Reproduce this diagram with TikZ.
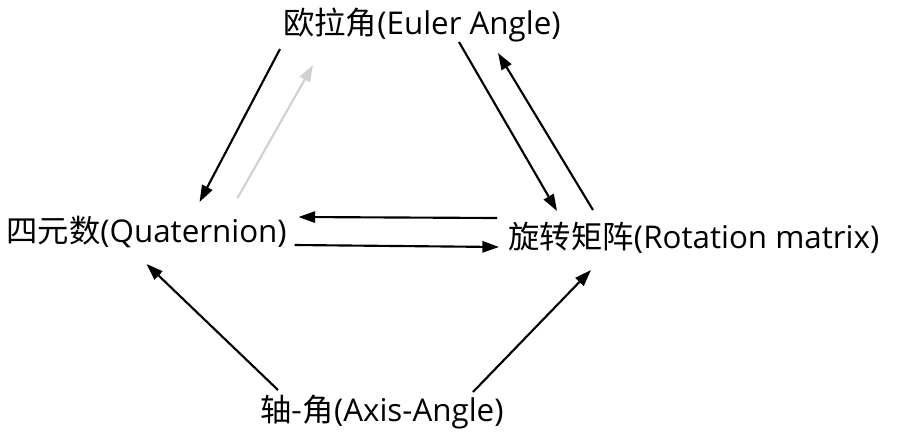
\documentclass[tikz,border=0pt]{standalone}
\usepackage{fontspec}
\setmainfont{Open Sans}
\newfontfamily\cjk{Noto Sans CJK SC}
\usepackage{tikz}
\usetikzlibrary{arrows.meta}

\tikzset{
  conv/.style={-{Triangle[length=12.5pt,width=8.5pt]}, line width=1.6pt, black},
  faint/.style={conv, color=black!18}
}

\begin{document}
\begin{tikzpicture}[x=0.75pt, y=-0.75pt, font=\fontsize{23.5}{28}\selectfont]
  \useasboundingbox (0,0) rectangle (900,436);

  % Nodes
  \node (eul) at (422,25) {{\cjk 欧拉角}(Euler Angle)};
  \node[below of=eul, node distance=155.25pt, xshift=-206.6pt] (qua) {{\cjk 四元数}(Quaternion)};
  \node[right of=qua, node distance=410.6pt, yshift=-4.5pt] (rot) {{\cjk 旋转矩阵}(Rotation matrix)};
  \node[below of=eul, node distance=290.25pt, xshift=-30pt] (axi) {{\cjk 轴-角}(Axis-Angle)};

  % Arrows between Euler angle and quaternion
  \draw[conv] ([shift={(-142,24)}]eul.center) -- ([shift={(53,-30)}]qua.center);
  \draw[faint] ([shift={(91,-34)}]qua.center) -- ([shift={(-109,40)}]eul.center);

  % Arrows between Euler angle and rotation matrix
  \draw[conv] ([shift={(37,17)}]eul.center) -- ([shift={(-137,-27)}]rot.center);
  \draw[conv] ([shift={(-101,-28)}]rot.center) -- ([shift={(76,28)}]eul.center);

  % Arrows between quaternion and rotation matrix
  \draw[conv] ([shift={(-197,-20)}]rot.center) -- ([shift={(152,-15)}]qua.center);
  \draw[conv] ([shift={(148,13)}]qua.center) -- ([shift={(-195,9)}]rot.center);

  % Arrows from axis-angle
  \draw[conv] ([shift={(-104,-22)}]axi.center) -- ([shift={(0,32)}]qua.center);
  \draw[conv] ([shift={(91,-20)}]axi.center) -- ([shift={(-103,32)}]rot.center);
\end{tikzpicture}
\end{document}
